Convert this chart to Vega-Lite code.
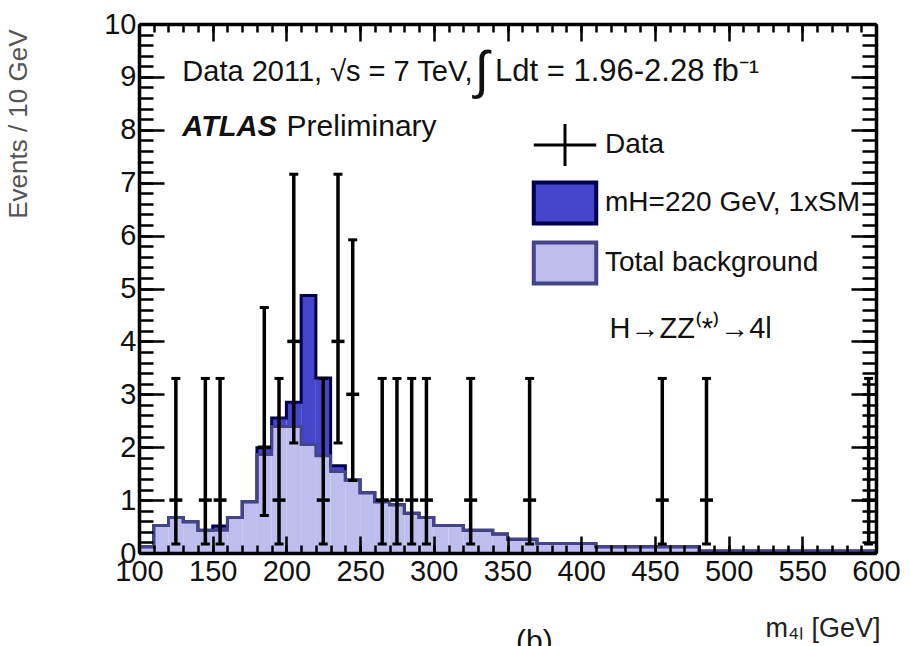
{
  "$schema": "https://vega.github.io/schema/vega-lite/v6.json",
  "width": 737,
  "height": 529,
  "autosize": {"type": "none"},
  "padding": {"left": 139, "top": 24, "right": 34, "bottom": 93},
  "background": "white",
  "config": {"view": {"stroke": null}, "font": "Liberation Sans"},
  "datasets": {
    "hist": [
      {"bin_start": 100, "bin_end": 110, "bkg": 0.12, "sig": 0},
      {"bin_start": 110, "bin_end": 120, "bkg": 0.52, "sig": 0},
      {"bin_start": 120, "bin_end": 130, "bkg": 0.67, "sig": 0},
      {"bin_start": 130, "bin_end": 140, "bkg": 0.59, "sig": 0},
      {"bin_start": 140, "bin_end": 150, "bkg": 0.43, "sig": 0},
      {"bin_start": 150, "bin_end": 160, "bkg": 0.43, "sig": 0.08},
      {"bin_start": 160, "bin_end": 170, "bkg": 0.67, "sig": 0},
      {"bin_start": 170, "bin_end": 180, "bkg": 0.97, "sig": 0},
      {"bin_start": 180, "bin_end": 190, "bkg": 1.86, "sig": 0.13},
      {"bin_start": 190, "bin_end": 200, "bkg": 2.39, "sig": 0.16},
      {"bin_start": 200, "bin_end": 210, "bkg": 2.39, "sig": 0.46},
      {"bin_start": 210, "bin_end": 220, "bkg": 2.05, "sig": 2.82},
      {"bin_start": 220, "bin_end": 230, "bkg": 1.84, "sig": 1.47},
      {"bin_start": 230, "bin_end": 240, "bkg": 1.54, "sig": 0.11},
      {"bin_start": 240, "bin_end": 250, "bkg": 1.38, "sig": 0},
      {"bin_start": 250, "bin_end": 260, "bkg": 1.14, "sig": 0},
      {"bin_start": 260, "bin_end": 270, "bkg": 0.97, "sig": 0},
      {"bin_start": 270, "bin_end": 280, "bkg": 0.91, "sig": 0},
      {"bin_start": 280, "bin_end": 290, "bkg": 0.75, "sig": 0},
      {"bin_start": 290, "bin_end": 300, "bkg": 0.67, "sig": 0},
      {"bin_start": 300, "bin_end": 310, "bkg": 0.52, "sig": 0},
      {"bin_start": 310, "bin_end": 320, "bkg": 0.52, "sig": 0},
      {"bin_start": 320, "bin_end": 330, "bkg": 0.43, "sig": 0},
      {"bin_start": 330, "bin_end": 340, "bkg": 0.43, "sig": 0},
      {"bin_start": 340, "bin_end": 350, "bkg": 0.36, "sig": 0},
      {"bin_start": 350, "bin_end": 360, "bkg": 0.26, "sig": 0},
      {"bin_start": 360, "bin_end": 370, "bkg": 0.26, "sig": 0},
      {"bin_start": 370, "bin_end": 380, "bkg": 0.18, "sig": 0},
      {"bin_start": 380, "bin_end": 390, "bkg": 0.18, "sig": 0},
      {"bin_start": 390, "bin_end": 400, "bkg": 0.18, "sig": 0},
      {"bin_start": 400, "bin_end": 410, "bkg": 0.18, "sig": 0},
      {"bin_start": 410, "bin_end": 420, "bkg": 0.12, "sig": 0},
      {"bin_start": 420, "bin_end": 430, "bkg": 0.12, "sig": 0},
      {"bin_start": 430, "bin_end": 440, "bkg": 0.12, "sig": 0},
      {"bin_start": 440, "bin_end": 450, "bkg": 0.12, "sig": 0},
      {"bin_start": 450, "bin_end": 460, "bkg": 0.12, "sig": 0},
      {"bin_start": 460, "bin_end": 470, "bkg": 0.12, "sig": 0},
      {"bin_start": 470, "bin_end": 480, "bkg": 0.12, "sig": 0},
      {"bin_start": 480, "bin_end": 490, "bkg": 0.04, "sig": 0},
      {"bin_start": 490, "bin_end": 500, "bkg": 0.04, "sig": 0},
      {"bin_start": 500, "bin_end": 510, "bkg": 0.04, "sig": 0},
      {"bin_start": 510, "bin_end": 520, "bkg": 0.04, "sig": 0},
      {"bin_start": 520, "bin_end": 530, "bkg": 0.04, "sig": 0},
      {"bin_start": 530, "bin_end": 540, "bkg": 0.04, "sig": 0},
      {"bin_start": 540, "bin_end": 550, "bkg": 0.04, "sig": 0},
      {"bin_start": 550, "bin_end": 560, "bkg": 0.04, "sig": 0},
      {"bin_start": 560, "bin_end": 570, "bkg": 0.04, "sig": 0},
      {"bin_start": 570, "bin_end": 580, "bkg": 0.04, "sig": 0},
      {"bin_start": 580, "bin_end": 590, "bkg": 0.04, "sig": 0},
      {"bin_start": 590, "bin_end": 600, "bkg": 0.04, "sig": 0}
    ],
    "points": [
      {"m": 125, "n": 1, "lo": 0.17, "hi": 3.3},
      {"m": 145, "n": 1, "lo": 0.17, "hi": 3.3},
      {"m": 155, "n": 1, "lo": 0.17, "hi": 3.3},
      {"m": 185, "n": 2, "lo": 0.71, "hi": 4.64},
      {"m": 195, "n": 1, "lo": 0.17, "hi": 3.3},
      {"m": 205, "n": 4, "lo": 2.08, "hi": 7.16},
      {"m": 225, "n": 1, "lo": 0.17, "hi": 3.3},
      {"m": 235, "n": 4, "lo": 2.08, "hi": 7.16},
      {"m": 245, "n": 3, "lo": 1.37, "hi": 5.92},
      {"m": 265, "n": 1, "lo": 0.17, "hi": 3.3},
      {"m": 275, "n": 1, "lo": 0.17, "hi": 3.3},
      {"m": 285, "n": 1, "lo": 0.17, "hi": 3.3},
      {"m": 295, "n": 1, "lo": 0.17, "hi": 3.3},
      {"m": 325, "n": 1, "lo": 0.17, "hi": 3.3},
      {"m": 365, "n": 1, "lo": 0.17, "hi": 3.3},
      {"m": 455, "n": 1, "lo": 0.17, "hi": 3.3},
      {"m": 485, "n": 1, "lo": 0.17, "hi": 3.3},
      {"m": 595, "n": 1, "lo": 0.17, "hi": 3.3}
    ]
  },
  "resolve": {"axis": {"x": "independent", "y": "independent"}},
  "layer": [
    {
      "data": {"name": "hist"},
      "transform": [
        {"fold": ["bkg", "sig"], "as": ["process", "events"]},
        {"stack": "events", "groupby": ["bin_start"], "sort": [{"field": "process", "order": "ascending"}], "as": ["y0", "y1"]}
      ],
      "mark": {"type": "rect"},
      "encoding": {
        "x": {
          "field": "bin_start", "type": "quantitative",
          "scale": {"domain": [100, 600], "nice": false, "zero": false},
          "axis": {
            "orient": "bottom",
            "values": [100,150,200,250,300,350,400,450,500,550,600],
            "format": "d",
            "labelOverlap": false, "labelFlush": false,
            "labelFont": "Liberation Sans", "labelFontSize": 29, "labelColor": "#111", "labelPadding": 4,
            "ticks": false, "tickSize": 0,
            "grid": true, "gridDash": [17, 495, 17, 2000], "gridColor": "black", "gridOpacity": 1, "gridWidth": 2.5,
            "domain": true, "domainColor": "black", "domainWidth": 3.5,
            "title": "m₄ₗ [GeV]", "titleFont": "Liberation Sans", "titleFontSize": 27, "titleFontWeight": "normal", "titleColor": "#222",
            "titleAnchor": "end", "titleAlign": "right", "titleBaseline": "middle", "titleX": 741, "titleY": 75,
            "zindex": 1
          }
        },
        "x2": {"field": "bin_end"},
        "y": {
          "field": "y1", "type": "quantitative",
          "scale": {"domain": [0, 10], "nice": false, "zero": false},
          "axis": {
            "orient": "left",
            "values": [0,1,2,3,4,5,6,7,8,9,10],
            "format": "d",
            "labelOverlap": false, "labelFlush": false,
            "labelFont": "Liberation Sans", "labelFontSize": 29, "labelColor": "#111", "labelPadding": 3,
            "ticks": false, "tickSize": 0,
            "grid": true, "gridDash": [25, 687, 25, 2000], "gridColor": "black", "gridOpacity": 1, "gridWidth": 2.5,
            "domain": true, "domainColor": "black", "domainWidth": 3.5,
            "title": "Events / 10 GeV", "titleFont": "Liberation Sans", "titleFontSize": 26, "titleFontWeight": "normal", "titleColor": "#555",
            "titleAngle": -90, "titleAlign": "right", "titleBaseline": "middle", "titleX": -121, "titleY": 5,
            "zindex": 1
          }
        },
        "y2": {"field": "y0"},
        "fill": {
          "field": "process", "type": "nominal",
          "scale": {"domain": ["data", "sig", "bkg"], "range": ["black", "#4545cc", "#bdbdee"]},
          "legend": {
            "orient": "none", "legendX": 412, "legendY": 107, "direction": "vertical",
            "title": null, "padding": 0,
            "symbolSize": 1936, "symbolStrokeWidth": 4, "rowPadding": 2, "labelOffset": 26,
            "labelFont": "Liberation Sans", "labelFontSize": 28, "labelColor": "#111", "labelLimit": 400,
            "labelExpr": "datum.value === 'data' ? 'Data' : datum.value === 'sig' ? 'mH=220 GeV, 1xSM' : 'Total background'",
            "encode": {
              "symbols": {
                "update": {
                  "shape": {"signal": "datum.value === 'data' ? 'M-1.42,0H1.42M0,-0.95V0.95' : 'M-1.42,-0.93H1.42V0.93H-1.42Z'"},
                  "stroke": {"signal": "datum.value === 'data' ? 'black' : datum.value === 'sig' ? '#000050' : '#444488'"},
                  "strokeWidth": {"signal": "datum.value === 'data' ? 3 : 4"},
                  "opacity": {"value": 1},
                  "fillOpacity": {"value": 1},
                  "strokeOpacity": {"value": 1}
                }
              }
            }
          }
        }
      }
    },
    {
      "data": {"name": "hist"},
      "transform": [
        {"fold": ["bkg", "sig"], "as": ["process", "events"]},
        {"stack": "events", "groupby": ["bin_start"], "sort": [{"field": "process", "order": "ascending"}], "as": ["y0", "y1"]},
        {"filter": "datum.process === 'sig'"},
        {"fold": ["bin_start", "bin_end"], "as": ["edge", "m"]}
      ],
      "mark": {"type": "line", "color": "#000050", "strokeWidth": 3, "interpolate": "linear"},
      "encoding": {
        "x": {
          "field": "m", "type": "quantitative",
          "scale": {"domain": [100, 600], "nice": false, "zero": false},
          "axis": {
            "orient": "top",
            "values": [100,110,120,130,140,150,160,170,180,190,200,210,220,230,240,250,260,270,280,290,300,310,320,330,340,350,360,370,380,390,400,410,420,430,440,450,460,470,480,490,500,510,520,530,540,550,560,570,580,590,600],
            "labels": false, "ticks": false, "tickSize": 0, "title": null,
            "grid": true, "gridDash": [8, 513, 8, 2000], "gridColor": "black", "gridOpacity": 1, "gridWidth": 2.5,
            "domain": true, "domainColor": "black", "domainWidth": 3.5, "zindex": 1
          }
        },
        "y": {
          "field": "y1", "type": "quantitative",
          "scale": {"domain": [0, 10], "nice": false, "zero": false},
          "axis": {
            "orient": "right",
            "values": [0,0.2,0.4,0.6,0.8,1,1.2,1.4,1.6,1.8,2,2.2,2.4,2.6,2.8,3,3.2,3.4,3.6,3.8,4,4.2,4.4,4.6,4.8,5,5.2,5.4,5.6,5.8,6,6.2,6.4,6.6,6.8,7,7.2,7.4,7.6,7.8,8,8.2,8.4,8.6,8.8,9,9.2,9.4,9.6,9.8,10],
            "labels": false, "ticks": false, "tickSize": 0, "title": null,
            "grid": true, "gridDash": [14, 709, 14, 2000], "gridColor": "black", "gridOpacity": 1, "gridWidth": 2.5,
            "domain": true, "domainColor": "black", "domainWidth": 3.5, "zindex": 1
          }
        },
        "order": [{"field": "m", "type": "quantitative"}, {"field": "edge", "type": "nominal"}]
      }
    },
    {
      "data": {"name": "hist"},
      "transform": [
        {"fold": ["bin_start", "bin_end"], "as": ["edge", "m"]}
      ],
      "mark": {"type": "line", "color": "#444488", "strokeWidth": 3, "interpolate": "linear"},
      "encoding": {
        "x": {"field": "m", "type": "quantitative", "scale": {"domain": [100, 600], "nice": false, "zero": false}, "axis": null},
        "y": {"field": "bkg", "type": "quantitative", "scale": {"domain": [0, 10], "nice": false, "zero": false}, "axis": null},
        "order": [{"field": "m", "type": "quantitative"}, {"field": "edge", "type": "nominal"}]
      }
    },
    {
      "data": {"name": "points"},
      "mark": {"type": "rule", "color": "black", "strokeWidth": 3.5},
      "encoding": {
        "x": {"field": "m", "type": "quantitative", "scale": {"domain": [100, 600], "nice": false, "zero": false}, "axis": null},
        "y": {"field": "lo", "type": "quantitative", "scale": {"domain": [0, 10], "nice": false, "zero": false}, "axis": null},
        "y2": {"field": "hi"}
      }
    },
    {
      "data": {"name": "points"},
      "mark": {"type": "tick", "orient": "horizontal", "color": "black", "size": 9, "thickness": 3, "opacity": 1},
      "encoding": {
        "x": {"field": "m", "type": "quantitative", "scale": {"domain": [100, 600], "nice": false, "zero": false}, "axis": null},
        "y": {"field": "lo", "type": "quantitative", "scale": {"domain": [0, 10], "nice": false, "zero": false}, "axis": null}
      }
    },
    {
      "data": {"name": "points"},
      "mark": {"type": "tick", "orient": "horizontal", "color": "black", "size": 9, "thickness": 3, "opacity": 1},
      "encoding": {
        "x": {"field": "m", "type": "quantitative", "scale": {"domain": [100, 600], "nice": false, "zero": false}, "axis": null},
        "y": {"field": "hi", "type": "quantitative", "scale": {"domain": [0, 10], "nice": false, "zero": false}, "axis": null}
      }
    },
    {
      "data": {"name": "points"},
      "mark": {"type": "tick", "orient": "horizontal", "color": "black", "size": 13, "thickness": 3.5, "opacity": 1},
      "encoding": {
        "x": {"field": "m", "type": "quantitative", "scale": {"domain": [100, 600], "nice": false, "zero": false}, "axis": null},
        "y": {"field": "n", "type": "quantitative", "scale": {"domain": [0, 10], "nice": false, "zero": false}, "axis": null}
      }
    },
    {
      "data": {"values": [{}]},
      "mark": {"type": "text", "align": "left", "baseline": "middle", "font": "Liberation Sans", "fontSize": 29, "color": "#111"},
      "encoding": {
        "x": {"datum": 129.4, "type": "quantitative", "scale": {"domain": [100, 600], "nice": false, "zero": false}, "axis": null},
        "y": {"datum": 9.09, "type": "quantitative", "scale": {"domain": [0, 10], "nice": false, "zero": false}, "axis": null},
        "text": {"value": "Data 2011, √s = 7 TeV,"}
      }
    },
    {
      "data": {"values": [{}]},
      "mark": {"type": "text", "align": "center", "baseline": "middle", "font": "Liberation Sans", "fontSize": 52, "color": "#111"},
      "encoding": {
        "x": {"datum": 332.5, "type": "quantitative", "scale": {"domain": [100, 600], "nice": false, "zero": false}, "axis": null},
        "y": {"datum": 9.09, "type": "quantitative", "scale": {"domain": [0, 10], "nice": false, "zero": false}, "axis": null},
        "text": {"value": "∫"}
      }
    },
    {
      "data": {"values": [{}]},
      "mark": {"type": "text", "align": "left", "baseline": "middle", "font": "Liberation Sans", "fontSize": 31, "color": "#111"},
      "encoding": {
        "x": {"datum": 341.5, "type": "quantitative", "scale": {"domain": [100, 600], "nice": false, "zero": false}, "axis": null},
        "y": {"datum": 9.09, "type": "quantitative", "scale": {"domain": [0, 10], "nice": false, "zero": false}, "axis": null},
        "text": {"value": "Ldt  =  1.96-2.28 fb⁻¹"}
      }
    },
    {
      "data": {"values": [{}]},
      "mark": {"type": "text", "align": "left", "baseline": "middle", "font": "Liberation Sans", "fontSize": 29, "fontWeight": "bold", "fontStyle": "italic", "color": "#111"},
      "encoding": {
        "x": {"datum": 129.4, "type": "quantitative", "scale": {"domain": [100, 600], "nice": false, "zero": false}, "axis": null},
        "y": {"datum": 8.05, "type": "quantitative", "scale": {"domain": [0, 10], "nice": false, "zero": false}, "axis": null},
        "text": {"value": "ATLAS"}
      }
    },
    {
      "data": {"values": [{}]},
      "mark": {"type": "text", "align": "left", "baseline": "middle", "font": "Liberation Sans", "fontSize": 30, "color": "#111"},
      "encoding": {
        "x": {"datum": 200.1, "type": "quantitative", "scale": {"domain": [100, 600], "nice": false, "zero": false}, "axis": null},
        "y": {"datum": 8.05, "type": "quantitative", "scale": {"domain": [0, 10], "nice": false, "zero": false}, "axis": null},
        "text": {"value": "Preliminary"}
      }
    },
    {
      "data": {"values": [{}]},
      "mark": {"type": "text", "align": "left", "baseline": "middle", "font": "Liberation Sans", "fontSize": 29, "color": "#111"},
      "encoding": {
        "x": {"datum": 419.2, "type": "quantitative", "scale": {"domain": [100, 600], "nice": false, "zero": false}, "axis": null},
        "y": {"datum": 4.24, "type": "quantitative", "scale": {"domain": [0, 10], "nice": false, "zero": false}, "axis": null},
        "text": {"value": "H→ZZ⁽*⁾→4l"}
      }
    },
    {
      "data": {"values": [{}]},
      "mark": {"type": "text", "align": "center", "baseline": "top", "font": "Liberation Sans", "fontSize": 30, "color": "#111"},
      "encoding": {
        "x": {"datum": 368.2, "type": "quantitative", "scale": {"domain": [100, 600], "nice": false, "zero": false}, "axis": null},
        "y": {"datum": -1.4, "type": "quantitative", "scale": {"domain": [0, 10], "nice": false, "zero": false}, "axis": null},
        "text": {"value": "(b)"}
      }
    }
  ]
}
